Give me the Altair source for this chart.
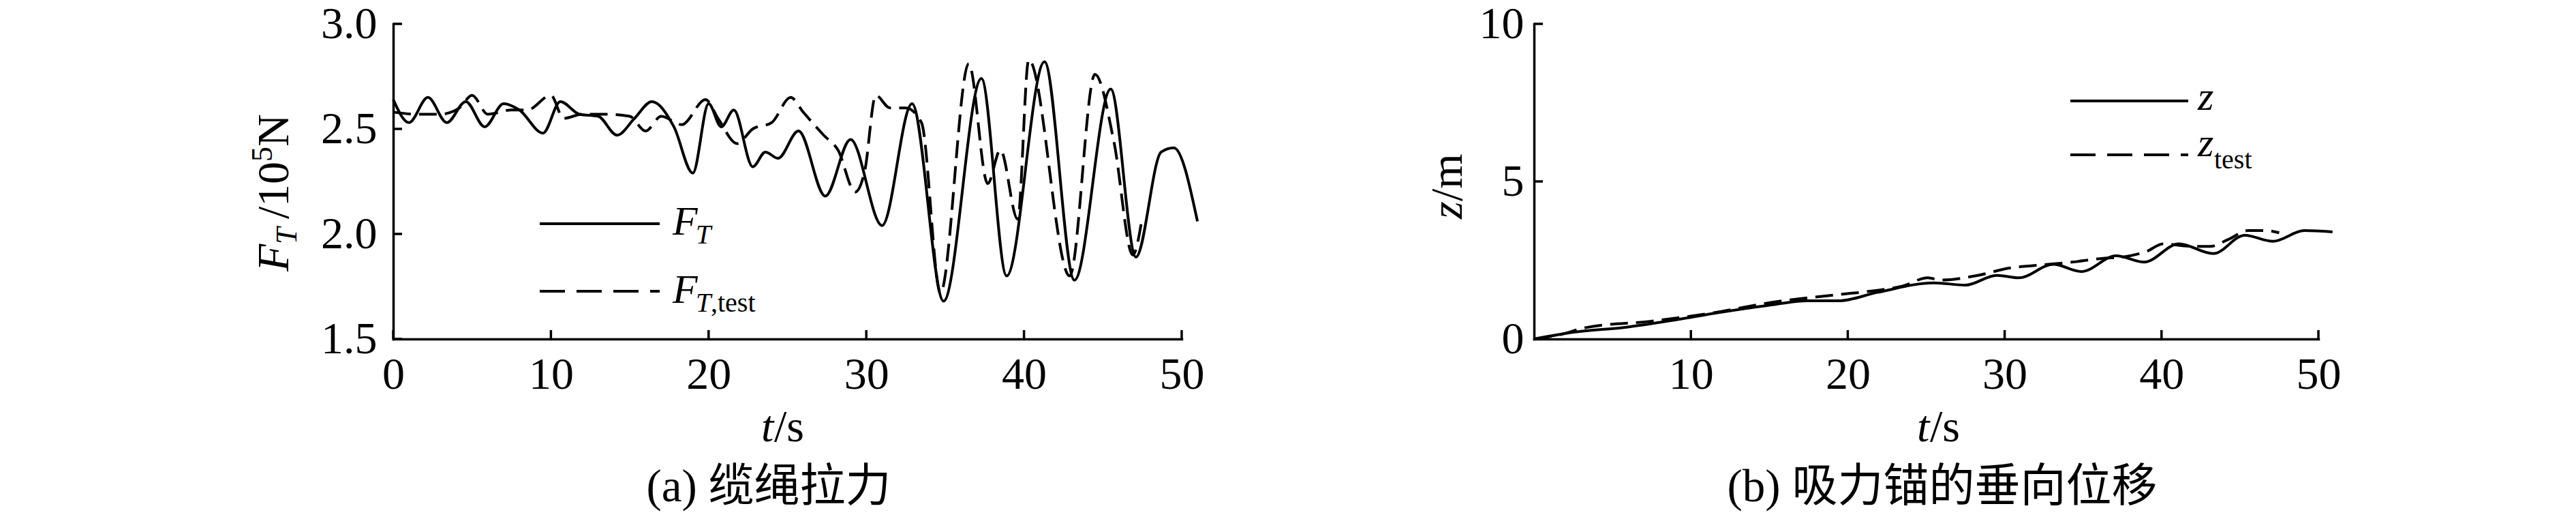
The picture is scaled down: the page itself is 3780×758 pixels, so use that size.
import altair as alt
import pandas as pd

# ---------------- data ----------------
# (a) cable tension, 10^5 N
ft_t = [0, 1.0, 2.2, 3.4, 4.6, 5.8, 7.0, 8.0, 9.5, 10.6, 11.8, 13.0, 14.2, 15.3, 16.4,
        17.8, 19.0, 20.0, 20.8, 21.6, 22.8, 23.6, 24.4, 25.7, 27.4, 29.0, 31.0, 32.9,
        34.9, 37.3, 38.9, 41.3, 43.2, 45.5, 47.1, 48.7, 49.5, 51.0]
ft_v = [2.64, 2.53, 2.65, 2.53, 2.63, 2.51, 2.62, 2.59, 2.48, 2.63, 2.57, 2.56, 2.47, 2.55, 2.63,
        2.51, 2.29, 2.62, 2.51, 2.59, 2.32, 2.39, 2.36, 2.49, 2.18, 2.45, 2.04, 2.62,
        1.68, 2.74, 1.80, 2.82, 1.78, 2.69, 1.89, 2.39, 2.41, 2.06]
ftt_t = [0, 1.5, 3.0, 4.2, 5.0, 6.0, 7.5, 8.5, 10.0, 10.8, 12.0, 13.5, 15.0, 16.0, 17.0,
         18.3, 19.8, 20.6, 21.8, 22.8, 24.0, 25.2, 26.0, 27.3, 28.2, 29.3, 29.9, 30.6,
         31.5, 32.5, 33.5, 34.7, 36.5, 37.7, 38.5, 39.6, 40.3, 42.9, 44.5, 45.7, 46.9, 47.5]
ftt_v = [2.58, 2.57, 2.57, 2.60, 2.66, 2.57, 2.59, 2.59, 2.66, 2.55, 2.57, 2.57, 2.56, 2.49, 2.56,
         2.52, 2.64, 2.55, 2.43, 2.50, 2.53, 2.65, 2.58, 2.47, 2.40, 2.20, 2.30, 2.66,
         2.60, 2.60, 2.53, 1.72, 2.81, 2.24, 2.40, 2.07, 2.83, 1.80, 2.76, 2.44, 1.90, 2.08]

# (b) vertical displacement of the suction anchor, m
z_t = [0, 2.6, 5.8, 9.4, 12.2, 15.4, 17.4, 19.4, 21.9, 25.5, 27.5, 29.5, 30.9, 33.1,
       34.9, 37.1, 38.9, 41.1, 43.3, 45.3, 47.1, 49.1, 50.9]
z_v = [0, 0.22, 0.37, 0.64, 0.87, 1.10, 1.21, 1.21, 1.48, 1.78, 1.71, 2.02, 1.94, 2.37,
       2.14, 2.64, 2.44, 3.02, 2.71, 3.29, 3.10, 3.44, 3.40]
zt_t = [0, 1.5, 3.4, 7.4, 11.4, 15.4, 19.4, 21.5, 23.5, 25.1, 25.9, 28.3, 30.3, 31.9,
        34.3, 36.3, 37.5, 39.1, 40.1, 41.9, 43.1, 44.3, 45.5, 46.7, 47.5]
zt_v = [0, 0.12, 0.37, 0.56, 0.83, 1.18, 1.41, 1.52, 1.68, 1.94, 1.87, 2.02, 2.25, 2.33,
        2.44, 2.56, 2.60, 2.79, 3.02, 2.94, 2.94, 3.17, 3.44, 3.44, 3.37]

xa_ticks = [0, 10, 20, 30, 40, 50]
ya_ticks = [1.5, 2.0, 2.5, 3.0]
xb_ticks = [10, 20, 30, 40, 50]
yb_ticks = [0, 5, 10]

caption_a = "(a) 缆绳拉力"
caption_b = "(b) 吸力锚的垂向位移"

# ---------------- styling ----------------
SERIF = "Liberation Serif"
CJK = "Liberation Serif, Noto Sans CJK SC"
WA, WB, H = 1157, 1151, 462
LW = 4
DASH = [26, 12]
TICK = 66


def line_layer(t, v, xs, ys, xaxis, yaxis, dash=None):
    kw = dict(color="black", strokeWidth=LW, interpolate="monotone")
    if dash:
        kw["strokeDash"] = dash
    return alt.Chart(pd.DataFrame({"t": t, "v": v})).mark_line(**kw).encode(
        x=alt.X("t:Q", scale=xs, axis=xaxis),
        y=alt.Y("v:Q", scale=ys, axis=yaxis),
    )


def txt(s, x, y, size, italic=False, angle=0, align="left", font=SERIF):
    kw = dict(font=font, fontSize=size, color="black", align=align, baseline="alphabetic")
    if italic:
        kw["fontStyle"] = "italic"
    if angle:
        kw["angle"] = angle
    return alt.Chart(pd.DataFrame({"s": [s]})).mark_text(**kw).encode(
        x=alt.value(x), y=alt.value(y), text="s:N")


def seg(x1, x2, y1, y2, dash=None, color="black", w=LW):
    kw = dict(color=color, strokeWidth=w)
    if dash:
        kw["strokeDash"] = dash
    return alt.Chart(pd.DataFrame({"k": [0]})).mark_rule(**kw).encode(
        x=alt.value(x1), x2=alt.value(x2), y=alt.value(y1), y2=alt.value(y2))


def ytick_layer(vals, ys, yaxis):
    return alt.Chart(pd.DataFrame({"v": vals})).mark_rule(color="black", strokeWidth=3.5).encode(
        y=alt.Y("v:Q", scale=ys, axis=yaxis), x=alt.value(0), x2=alt.value(13))


def xtick_layer(vals, xs, xaxis):
    return alt.Chart(pd.DataFrame({"t": vals})).mark_rule(color="black", strokeWidth=3.5).encode(
        x=alt.X("t:Q", scale=xs, axis=xaxis), y=alt.value(H), y2=alt.value(H - 13))


def make_xaxis(vals):
    return alt.Axis(values=vals, ticks=False, grid=False, title=None, domainColor="black",
                    domainWidth=3.5, domainCap="square", labelFont=SERIF, labelFontSize=TICK,
                    labelColor="black", labelPadding=20, labelFlush=False, labelOverlap=False)


def make_yaxis(vals, pad, fmt):
    return alt.Axis(values=vals, ticks=False, grid=False, title=None, domainColor="black",
                    domainWidth=3.5, domainCap="square", labelFont=SERIF, labelFontSize=TICK,
                    labelColor="black", labelPadding=pad, labelFlush=False, labelOverlap=False,
                    format=fmt)


# ---------------- panel (a) ----------------
xs_a = alt.Scale(domain=[0, 50], nice=False, zero=False)
ys_a = alt.Scale(domain=[1.5, 3.0], nice=False, zero=False)
ax_xa = make_xaxis(xa_ticks)
ax_ya = make_yaxis(ya_ticks, 24, ".1f")

pa_layers = [
    line_layer(ft_t, ft_v, xs_a, ys_a, ax_xa, ax_ya),
    line_layer(ftt_t, ftt_v, xs_a, ys_a, ax_xa, ax_ya, dash=DASH),
    ytick_layer(ya_ticks, ys_a, ax_ya),
    xtick_layer(xa_ticks, xs_a, ax_xa),
    # y title  F_T /10^5 N  (rotated)
    txt("F", -154, 363, 66, italic=True, angle=270),
    txt("T", -142, 323, 44, italic=True, angle=270),
    txt("/", -154, 286, 66, angle=270),
    txt("10", -154, 268, 66, angle=270),
    txt("5", -178, 202, 44, angle=270),
    txt("N", -154, 180, 66, angle=270),
    # x title
    txt("t", 540, 612, 66, italic=True),
    txt("/s", 559, 612, 66),
    # caption
    txt(caption_a, 551, 700, 67, align="center", font=CJK),
    # legend
    seg(215, 391, 293, 293),
    txt("F", 410, 309, 60, italic=True),
    txt("T", 444, 322, 40, italic=True),
    seg(215, 391, 392, 392, dash=[37, 17]),
    txt("F", 410, 409, 60, italic=True),
    txt("T", 444, 422, 40, italic=True),
    txt(",test", 466, 422, 40),
]
pa = alt.layer(*pa_layers).properties(width=WA, height=H)

# ---------------- panel (b) ----------------
xs_b = alt.Scale(domain=[0, 50], nice=False, zero=False)
ys_b = alt.Scale(domain=[0, 10], nice=False, zero=False)
ax_xb = make_xaxis(xb_ticks)
ax_yb = make_yaxis(yb_ticks, 15, "d")

pb_layers = [
    line_layer(z_t, z_v, xs_b, ys_b, ax_xb, ax_yb),
    line_layer(zt_t, zt_v, xs_b, ys_b, ax_xb, ax_yb, dash=DASH),
    ytick_layer(yb_ticks, ys_b, ax_yb),
    xtick_layer(xb_ticks, xs_b, ax_xb),
    # y title z/m
    txt("z", -106, 286, 66, italic=True, angle=270),
    txt("/m", -106, 260, 66, angle=270),
    # x title
    txt("t", 562, 612, 66, italic=True),
    txt("/s", 581, 612, 66),
    # caption
    txt(caption_b, 599, 700, 67, align="center", font=CJK),
    # legend
    seg(787, 960, 113, 113),
    txt("z", 974, 126, 60, italic=True),
    seg(787, 960, 192, 192, dash=[37, 17]),
    txt("z", 974, 194, 60, italic=True),
    txt("test", 998, 212, 40),
]
pb = alt.layer(*pb_layers).properties(width=WB, height=H)

chart = alt.hconcat(pa, pb, spacing=517, bounds="flush").properties(
    autosize=alt.AutoSizeParams(type="none"),
    padding={"left": 569, "top": 27, "right": 3764 - 569, "bottom": 742 - 27},
    background="white",
).configure_view(stroke=None)

chart.save("out.html", embed_options={"renderer": "svg", "actions": False})
